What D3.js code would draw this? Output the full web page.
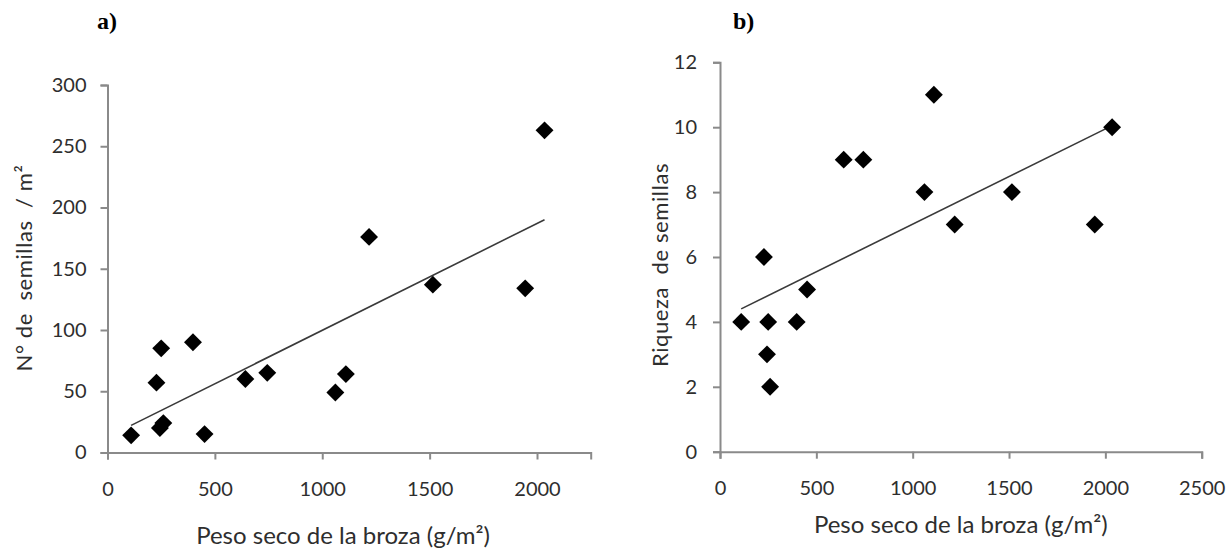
<!DOCTYPE html>
<html>
<head>
<meta charset="utf-8">
<script src="https://cdn.jsdelivr.net/npm/d3@7"></script>
<style>
  body { margin: 0; background: #fff; }
  svg text { font-family: Lato, "Open Sans", sans-serif; fill: #2e2e2e; }
</style>
</head>
<body>
<div id="chart"></div>
<script>
// dry litter weight (g/m2), same plots in both panels
const pesoSeco = [110, 228, 250, 398, 244, 260, 452, 642, 744, 1061, 1110, 2035, 1218, 1515, 1945];
// a) seeds per m2
const semillas = [14, 57, 85, 90, 20, 24, 15, 60, 65, 49, 64, 263, 176, 137, 134];
// b) seed richness
const riqueza = [4, 6, 4, 4, 3, 2, 5, 9, 9, 8, 11, 10, 7, 8, 7];

const ticksAx = [0, 500, 1000, 1500, 2000];
const ticksAy = [0, 50, 100, 150, 200, 250, 300];
const ticksBx = [0, 500, 1000, 1500, 2000, 2500];
const ticksBy = [0, 2, 4, 6, 8, 10, 12];

const W = 1229, H = 551;

const svg = d3
  .select("#chart")
  .append("svg")
  .attr("width", W)
  .attr("height", H);

// least squares trend line, like the spreadsheet did
function fit(xs, ys) {
  const mx = d3.mean(xs), my = d3.mean(ys);
  let num = 0, den = 0;
  xs.forEach((x, i) => {
    num += (x - mx) * (ys[i] - my);
    den += (x - mx) * (x - mx);
  });
  const b = num / den;
  return { b: b, a: my - b * mx };
}

function panel(p) {
  const x = d3.scaleLinear().domain(p.xDomain).range([p.left, p.right]);
  const y = d3.scaleLinear().domain(p.yDomain).range([p.bottom, p.top]);

  const g = svg.append("g");

  // x axis
  const xa = g
    .append("g")
    .attr("transform", `translate(0,${p.bottom})`)
    .call(
      d3.axisBottom(x)
        .tickValues(p.xTicks)
        .tickFormat(d3.format("d"))
        .tickSizeOuter(0)
        .tickSize(7)
    );
  xa.selectAll("text")
    .attr("y", 43)
    .attr("dy", 0)
    .style("font-size", "20px");

  // y axis
  const ya = g
    .append("g")
    .attr("transform", `translate(${p.left},0)`)
    .call(
      d3.axisLeft(y)
        .tickValues(p.yTicks)
        .tickFormat(d3.format("d"))
        .tickSizeOuter(0)
        .tickSize(7)
        .tickPadding(p.yPad)
    );
  ya.selectAll("text").style("font-size", "20px");

  g.selectAll(".domain, .tick line")
    .attr("stroke", "#8a8a8a")
    .attr("stroke-width", 2);

  // trend line over the range of the data
  const t = fit(pesoSeco, p.values);
  const x0 = d3.min(pesoSeco), x1 = d3.max(pesoSeco);
  g.append("line")
    .attr("x1", x(x0))
    .attr("y1", y(t.a + t.b * x0))
    .attr("x2", x(x1))
    .attr("y2", y(t.a + t.b * x1))
    .attr("stroke", "#3a3a3a")
    .attr("stroke-width", 1.6);

  // diamonds
  const diamond = d3.symbol().type(d3.symbolSquare).size(160);
  g.selectAll(".pt")
    .data(pesoSeco)
    .join("path")
    .attr("class", "pt")
    .attr("d", diamond)
    .attr("transform", (d, i) => `translate(${x(d)},${y(p.values[i])}) rotate(45)`)
    .attr("fill", "#000");

  // axis titles
  g.append("text")
    .attr("x", (x(p.xDomain[0]) + x(p.xDomain[1])) / 2 - p.titleShift)
    .attr("y", p.xTitleY)
    .attr("text-anchor", "middle")
    .style("font-size", "24px")
    .text("Peso seco de la broza (g/m²)");

  g.append("text")
    .attr("transform", `translate(${p.yTitleX},${p.yTitleY}) rotate(-90)`)
    .attr("text-anchor", "middle")
    .style("font-size", "22px")
    .style("letter-spacing", p.yTitleSpacing)
    .attr("xml:space", "preserve")
    .text(p.yTitle);

  // panel letter
  g.append("text")
    .attr("x", p.letterX)
    .attr("y", 29)
    .style("font-family", "'Liberation Serif', 'Times New Roman', serif")
    .style("font-weight", "bold")
    .style("font-size", "24px")
    .style("fill", "#000")
    .text(p.letter);
}

panel({
  letter: "a)",
  letterX: 97,
  xDomain: [0, 2250],
  yDomain: [0, 300],
  left: 107.5,
  right: 590.7,
  top: 85,
  bottom: 452.5,
  xTicks: ticksAx,
  yTicks: ticksAy,
  yPad: 14,
  values: semillas,
  titleShift: 6,
  xTitleY: 544,
  yTitleX: 32,
  yTitleY: 268,
  yTitle: "N° de  semillas  / m²",
  yTitleSpacing: "0.6px"
});

panel({
  letter: "b)",
  letterX: 733,
  xDomain: [0, 2500],
  yDomain: [0, 12],
  left: 720,
  right: 1201.7,
  top: 62.3,
  bottom: 451.7,
  xTicks: ticksBx,
  yTicks: ticksBy,
  yPad: 16,
  values: riqueza,
  titleShift: 0,
  xTitleY: 533,
  yTitleX: 668,
  yTitleY: 265,
  yTitle: "Riqueza  de semillas",
  yTitleSpacing: "0.6px"
});
</script>
</body>
</html>
